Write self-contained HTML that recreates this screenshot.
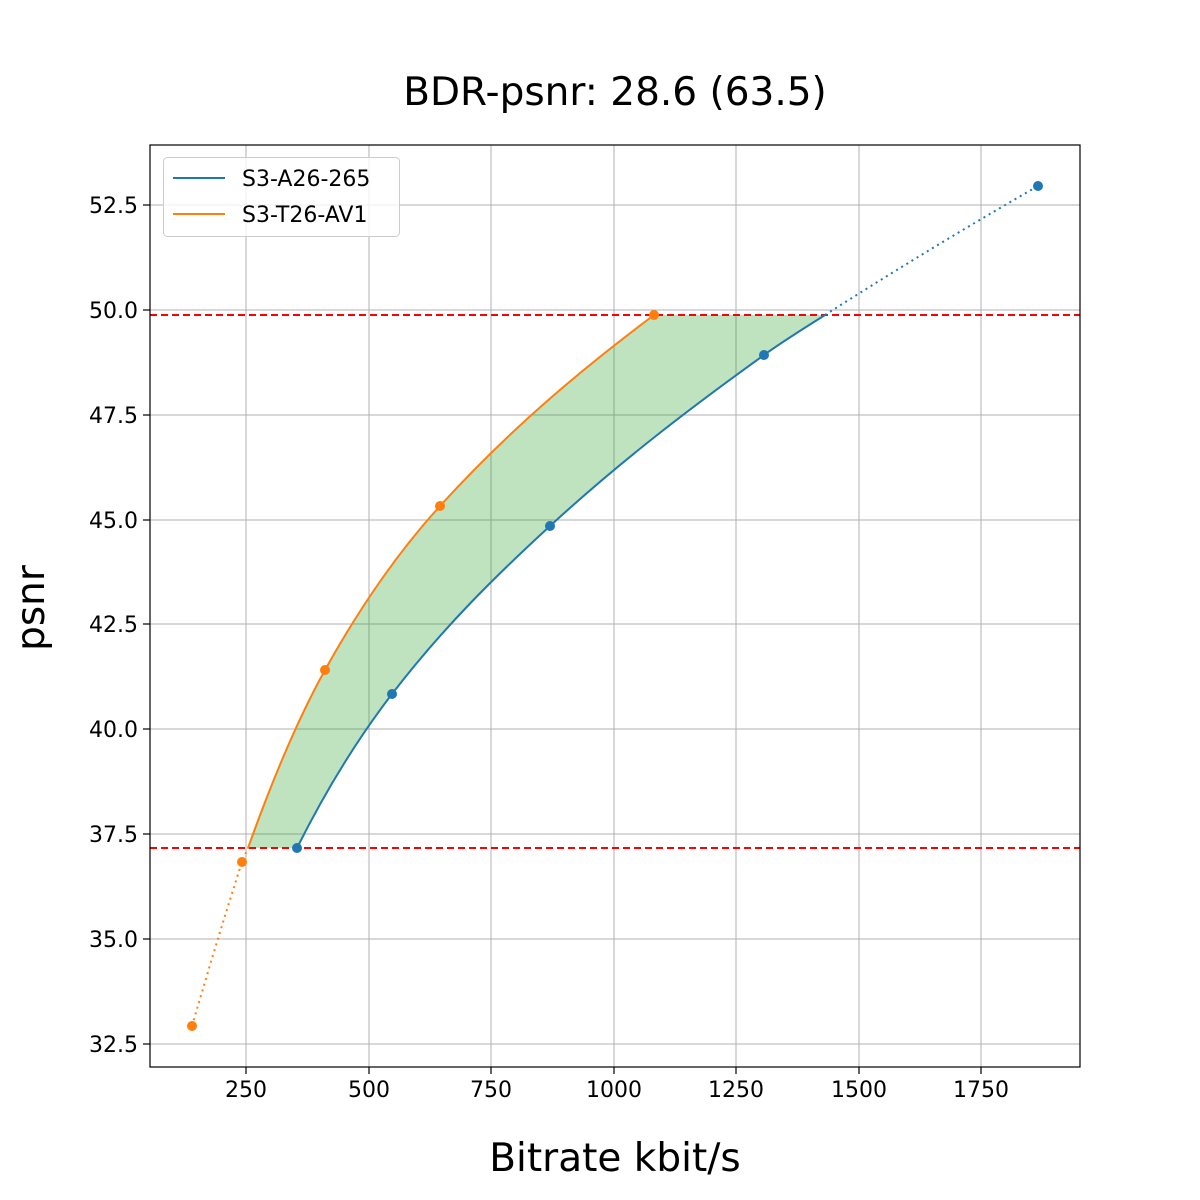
<!DOCTYPE html>
<html><head><meta charset="utf-8"><style>body{margin:0;background:#fff}svg{display:block;font-family:"DejaVu Sans","Liberation Sans",sans-serif}</style></head>
<body>
<svg width="1200" height="1200" viewBox="0 0 1200 1200" xmlns="http://www.w3.org/2000/svg">
<rect width="1200" height="1200" fill="#fff"/>
<g stroke="#b0b0b0" stroke-width="1">
<line x1="246" y1="145" x2="246" y2="1067"/><line x1="369" y1="145" x2="369" y2="1067"/><line x1="491" y1="145" x2="491" y2="1067"/><line x1="614" y1="145" x2="614" y2="1067"/><line x1="736" y1="145" x2="736" y2="1067"/><line x1="859" y1="145" x2="859" y2="1067"/><line x1="981" y1="145" x2="981" y2="1067"/>
<line x1="150" y1="205" x2="1080" y2="205"/><line x1="150" y1="310" x2="1080" y2="310"/><line x1="150" y1="415" x2="1080" y2="415"/><line x1="150" y1="520" x2="1080" y2="520"/><line x1="150" y1="624" x2="1080" y2="624"/><line x1="150" y1="729" x2="1080" y2="729"/><line x1="150" y1="834" x2="1080" y2="834"/><line x1="150" y1="939" x2="1080" y2="939"/><line x1="150" y1="1044" x2="1080" y2="1044"/>
</g>
<path d="M248,848 C273.7,776 299.3,716.3 325,670 C363.3,601 401.7,548.1 440,506 C511.3,427.6 582.7,368.5 654,315 L825,315 C804.7,328 784.3,340.4 764,355 C692.7,406.3 621.3,460.4 550,526 C497.3,574.5 444.7,625.5 392,694 C360.3,735.2 328.7,784.6 297,848 Z" fill="#2ca02c" fill-opacity="0.3"/>
<line x1="150" y1="315" x2="1080" y2="315" stroke="#ff0000" stroke-width="2" stroke-dasharray="7,4"/>
<line x1="150" y1="848" x2="1080" y2="848" stroke="#ff0000" stroke-width="2" stroke-dasharray="7,4"/>
<path d="M297,848 C328.7,784.6 360.3,735.2 392,694 C444.7,625.5 497.3,574.5 550,526 C621.3,460.4 692.7,406.3 764,355 C784.3,340.4 804.7,328 825,315" fill="none" stroke="#1f77b4" stroke-width="2"/>
<path d="M825,315 Q930,248 1038,186" fill="none" stroke="#1f77b4" stroke-width="2" stroke-dasharray="2,4"/>
<path d="M248,848 C273.7,776 299.3,716.3 325,670 C363.3,601 401.7,548.1 440,506 C511.3,427.6 582.7,368.5 654,315" fill="none" stroke="#ff7f0e" stroke-width="2"/>
<path d="M192,1026 Q220,930 242,862 L248,848" fill="none" stroke="#ff7f0e" stroke-width="2" stroke-dasharray="2,4"/>
<g fill="#1f77b4"><circle cx="297" cy="848" r="5"/><circle cx="392" cy="694" r="5"/><circle cx="550" cy="526" r="5"/><circle cx="764" cy="355" r="5"/><circle cx="1038" cy="186" r="5"/></g>
<g fill="#ff7f0e"><circle cx="192" cy="1026" r="5"/><circle cx="242" cy="862" r="5"/><circle cx="325" cy="670" r="5"/><circle cx="440" cy="506" r="5"/><circle cx="654" cy="315" r="5"/></g>
<rect x="150" y="145" width="930" height="922" fill="none" stroke="#000" stroke-width="1.2"/>
<g stroke="#000" stroke-width="1.2">
<line x1="246" y1="1067" x2="246" y2="1074"/><line x1="369" y1="1067" x2="369" y2="1074"/><line x1="491" y1="1067" x2="491" y2="1074"/><line x1="614" y1="1067" x2="614" y2="1074"/><line x1="736" y1="1067" x2="736" y2="1074"/><line x1="859" y1="1067" x2="859" y2="1074"/><line x1="981" y1="1067" x2="981" y2="1074"/>
<line x1="143" y1="205" x2="150" y2="205"/><line x1="143" y1="310" x2="150" y2="310"/><line x1="143" y1="415" x2="150" y2="415"/><line x1="143" y1="520" x2="150" y2="520"/><line x1="143" y1="624" x2="150" y2="624"/><line x1="143" y1="729" x2="150" y2="729"/><line x1="143" y1="834" x2="150" y2="834"/><line x1="143" y1="939" x2="150" y2="939"/><line x1="143" y1="1044" x2="150" y2="1044"/>
</g>
<g font-size="22" fill="#000" text-anchor="middle">
<text x="246" y="1097">250</text><text x="369" y="1097">500</text><text x="491" y="1097">750</text><text x="614" y="1097">1000</text><text x="736" y="1097">1250</text><text x="859" y="1097">1500</text><text x="981" y="1097">1750</text>
</g>
<g font-size="22" fill="#000" text-anchor="end">
<text x="138" y="213">52.5</text><text x="138" y="318">50.0</text><text x="138" y="423">47.5</text><text x="138" y="528">45.0</text><text x="138" y="632">42.5</text><text x="138" y="737">40.0</text><text x="138" y="842">37.5</text><text x="138" y="947">35.0</text><text x="138" y="1052">32.5</text>
</g>
<text x="615" y="105" font-size="39" text-anchor="middle">BDR-psnr: 28.6 (63.5)</text>
<text x="615" y="1171" font-size="39" text-anchor="middle">Bitrate kbit/s</text>
<text transform="translate(44,608) rotate(-90)" font-size="39" text-anchor="middle">psnr</text>
<rect x="163.5" y="157.5" width="236" height="79" rx="4" fill="#fff" fill-opacity="0.8" stroke="#ccc"/>
<line x1="173" y1="178" x2="225" y2="178" stroke="#1f77b4" stroke-width="2"/>
<line x1="173" y1="214" x2="225" y2="214" stroke="#ff7f0e" stroke-width="2"/>
<text x="242" y="186" font-size="22">S3-A26-265</text>
<text x="242" y="222" font-size="22">S3-T26-AV1</text>
</svg>
</body></html>
